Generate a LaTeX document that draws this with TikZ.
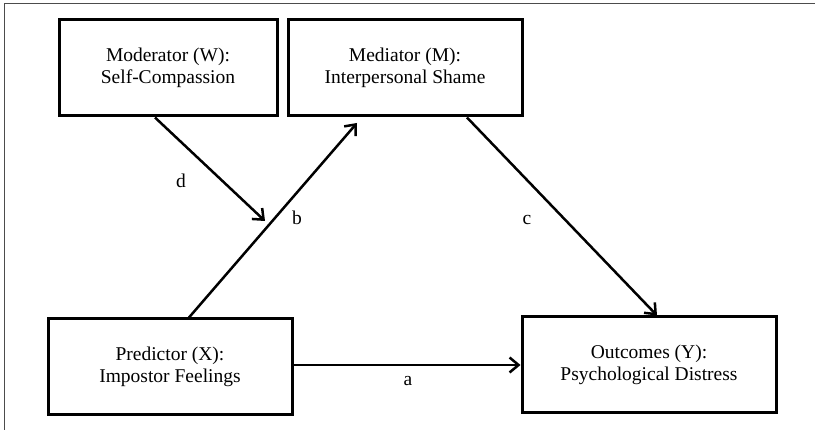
\documentclass[tikz,border=0pt]{standalone}
\usepackage{fontspec}
\setmainfont{Liberation Serif}
\usepackage{tikz}
\usetikzlibrary{arrows.meta}

\begin{document}
\begin{tikzpicture}[x=1pt,y=-1pt]
      \tikzstyle{var}=[draw=black, line width=3pt, align=center, minimum height=96pt, inner sep=0pt, font=\fontsize{19.5}{22}\selectfont]
      \tikzstyle{path_arrow}=[line width=2.5pt, -{Straight Barb[length=9pt,width=15pt,line width=2.5pt]}]
      \tikzstyle{path_label}=[font=\fontsize{19.5}{22}\selectfont]

      \useasboundingbox (0,0) rectangle (815,430);
      \draw [black!70, line width=1pt] (4,4) rectangle (830,445);

      \node [var, minimum width=218pt] (moderator) at (168,68) {Moderator (W):\\Self-Compassion};
      \node [var, minimum width=234pt] (mediator) at (405,68) {Mediator (M):\\Interpersonal Shame};
      \node [var, minimum width=244pt] (predictor) at (170,367) {Predictor (X):\\Impostor Feelings};
      \node [var, minimum width=254pt] (outcomes) at (649,365) {Outcomes (Y):\\Psychological Distress};

      \coordinate (dtip) at (265,221);
      \coordinate (btip) at (357,123);

      \draw [path_arrow] ([xshift=-13pt]moderator.south) -- (dtip);
      \draw [path_arrow] ([xshift=19pt]predictor.north) -- (btip);
      \draw [path_arrow] ([xshift=62pt]mediator.south) -- ([xshift=8pt]outcomes.north);
      \draw [path_arrow] (predictor.east |- outcomes.west) -- (outcomes.west);

      \node [path_label] (lbl_d) at (181,181) {d};
      \node [path_label] (lbl_b) at (297,218) {b};
      \node [path_label] (lbl_c) at (527,220) {c};
      \node [path_label] (lbl_a) at (408,381) {a};
    \end{tikzpicture}
\end{document}
